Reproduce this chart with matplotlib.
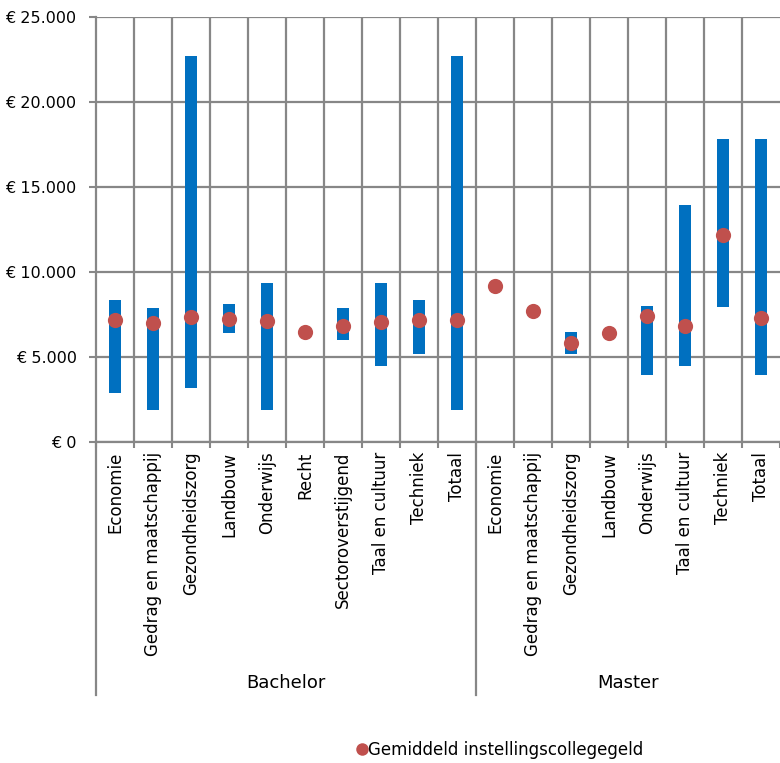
import matplotlib
matplotlib.use("Agg")
import matplotlib.pyplot as plt
from matplotlib.lines import Line2D
import numpy as np

plt.rcParams["font.family"] = "DejaVu Sans"

# === DATA ===
bachelor = ["Economie", "Gedrag en maatschappij", "Gezondheidszorg", "Landbouw",
            "Onderwijs", "Recht", "Sectoroverstijgend", "Taal en cultuur",
            "Techniek", "Totaal"]
master = ["Economie", "Gedrag en maatschappij", "Gezondheidszorg", "Landbouw",
          "Onderwijs", "Taal en cultuur", "Techniek", "Totaal"]

# range (min/max) per category, nan = no range shown
low_bachelor = [2900, 1900, 3200, 6400, 1900, np.nan, 6000, 4500, 5200, 1900]
high_bachelor = [8350, 7900, 22700, 8100, 9350, np.nan, 7900, 9350, 8350, 22700]
mean_bachelor = [7150, 7000, 7350, 7250, 7100, 6450, 6800, 7050, 7200, 7150]

low_master = [np.nan, np.nan, 5200, np.nan, 3950, 4500, 7950, 3950]
high_master = [np.nan, np.nan, 6450, np.nan, 8000, 13950, 17850, 17850]
mean_master = [9200, 7700, 5850, 6400, 7400, 6850, 12150, 7300]

yticks = [0, 5000, 10000, 15000, 20000, 25000]
ytick_labels = ["€ 0", "€ 5.000", "€ 10.000", "€ 15.000", "€ 20.000", "€ 25.000"]

# === PLOT ===
cats = bachelor + master
low = np.array(low_bachelor + low_master, dtype=float)
high = np.array(high_bachelor + high_master, dtype=float)
mean = np.array(mean_bachelor + mean_master, dtype=float)
x = np.arange(len(cats))

W, H = 780, 763
fig = plt.figure(figsize=(W / 100, H / 100), dpi=100)
ax = fig.add_axes([96 / W, (H - 442) / H, (780 - 96) / W, (442 - 17) / H])

grid_col = "#878787"

ax.bar(x, high - low, bottom=low, width=0.34, color="#0070C0", zorder=3)
ax.scatter(x, mean, s=120, color="#C0504D", zorder=4, linewidths=0)

ax.set_xlim(-0.5, len(cats) - 0.5)
ax.set_ylim(0, 25000)
ax.set_yticks(yticks)
ax.set_yticklabels(ytick_labels, fontsize=11.5)

ax.set_xticks(x)
ax.set_xticklabels(cats, rotation=90, fontsize=12, va="top")
ax.tick_params(axis="x", which="major", length=0, pad=7)
ax.set_xticks(np.arange(-0.5, len(cats)), minor=True)
ax.tick_params(axis="x", which="minor", length=4, width=1.5, color=grid_col)
ax.tick_params(axis="y", length=5, width=1.5, color=grid_col, pad=9)

for yv in yticks:
    ax.axhline(yv, color=grid_col, lw=1.6, zorder=1)
for xv in np.arange(0.5, len(cats) - 0.5):
    ax.axvline(xv, color=grid_col, lw=1.6, zorder=1)

for s in ["top", "right"]:
    ax.spines[s].set_visible(False)
ax.spines["left"].set_color(grid_col)
ax.spines["left"].set_linewidth(1.6)
ax.spines["bottom"].set_color(grid_col)
ax.spines["bottom"].set_linewidth(1.6)

# group separators and group labels
sep_bottom = -(695 - 442) / 425
trans = ax.get_xaxis_transform()
for xv in [-0.5, len(bachelor) - 0.5]:
    ax.plot([xv, xv], [0, sep_bottom], transform=trans, color=grid_col,
            lw=1.6, clip_on=False)
label_y = -(683 - 442) / 425
ax.text((len(bachelor) - 1) / 2, label_y, "Bachelor", transform=trans,
        ha="center", va="center", fontsize=13)
ax.text(len(bachelor) + (len(master) - 1) / 2, label_y, "Master", transform=trans,
        ha="center", va="center", fontsize=13)

# legend
handle = Line2D([], [], marker="o", linestyle="none", color="#C0504D",
                markersize=9, markeredgewidth=0)
fig.legend([handle], ["Gemiddeld instellingscollegegeld"], loc="center",
           bbox_to_anchor=(500 / W, 1 - 750 / H), frameon=False,
           handlelength=0.6, handletextpad=0.1, fontsize=12)

fig.savefig("out.png", dpi=100)
